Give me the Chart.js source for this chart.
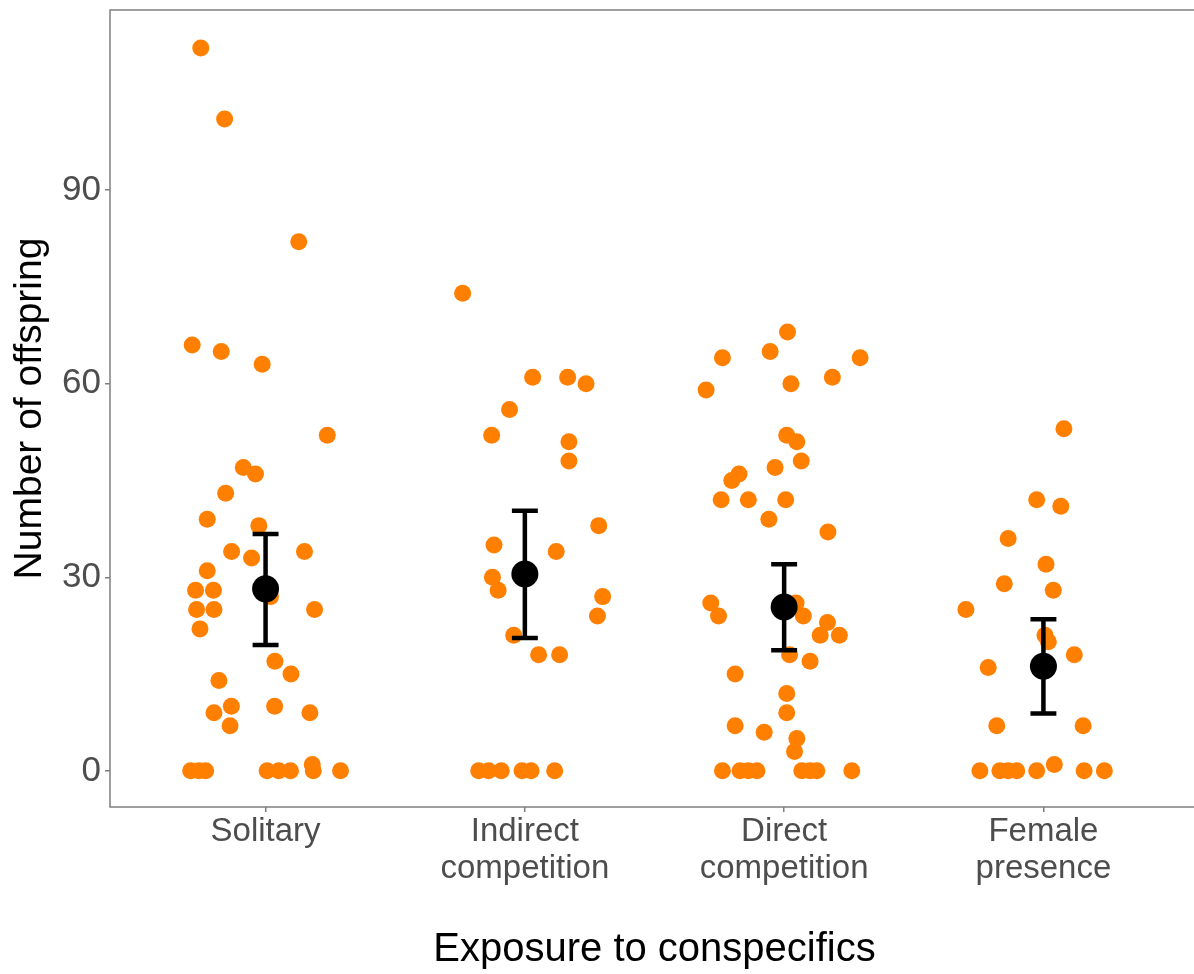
<!DOCTYPE html>
<html>
<head>
<meta charset="utf-8">
<script src="https://cdn.jsdelivr.net/npm/chart.js@4.4.1/dist/chart.umd.min.js"></script>
<style>
  html, body { margin: 0; padding: 0; background: #fff; overflow: hidden; }
  #wrap { width: 1200px; height: 974px; }
</style>
</head>
<body>
<div id="wrap"><canvas id="chart" width="1200" height="974"></canvas></div>
<script>
const CATEGORIES = [
    ["Solitary"],
    ["Indirect", "competition"],
    ["Direct", "competition"],
    ["Female", "presence"]
];
const Y_TICKS = [0, 30, 60, 90];

// offspring counts per treatment, with the horizontal jitter
const solitaryY = [112, 101, 82, 66, 65, 63, 52, 47, 46, 43, 39, 38, 34, 33, 34, 31, 28, 28, 25, 25,
    27, 25, 22, 17, 15, 14, 9, 10, 7, 10, 9, 0, 0, 0, 0, 0, 0, 1, 0, 0];
const solitaryJitter = [-0.25, -0.158, 0.128, -0.283, -0.171, -0.013, 0.238, -0.086, -0.039, -0.154,
    -0.225, -0.026, -0.131, -0.054, 0.150, -0.225, -0.270, -0.201, -0.266, -0.199,
    0.019, 0.189, -0.253, 0.036, 0.098, -0.180, -0.199, -0.132, -0.137, 0.035,
    0.171, -0.289, -0.257, -0.231, 0.006, 0.051, 0.096, 0.180, 0.184, 0.289];

const indirectY = [74, 61, 61, 60, 56, 52, 51, 48, 38, 35, 34, 30, 28, 27, 24, 21, 18, 18,
    0, 0, 0, 0, 0, 0];
const indirectJitter = [-0.24, 0.030, 0.165, 0.236, -0.059, -0.128, 0.170, 0.170, 0.285, -0.119,
    0.121, -0.125, -0.103, 0.300, 0.280, -0.043, 0.053, 0.134,
    -0.178, -0.140, -0.091, -0.011, 0.024, 0.115];

const directY = [68, 65, 64, 64, 59, 60, 61, 52, 51, 48, 47, 46, 45, 42, 42, 42, 39, 37,
    26, 24, 26, 24, 23, 21, 21, 18, 17, 15, 12, 9, 7, 6, 5, 3,
    0, 0, 0, 0, 0, 0, 0, 0];
const directJitter = [0.013, -0.054, -0.238, 0.293, -0.301, 0.026, 0.186, 0.010, 0.049, 0.066,
    -0.035, -0.174, -0.202, -0.243, -0.138, 0.006, -0.059, 0.169,
    -0.283, -0.253, 0.046, 0.074, 0.167, 0.139, 0.213, 0.021, 0.100, -0.189,
    0.010, 0.010, -0.189, -0.077, 0.049, 0.040,
    -0.238, -0.170, -0.138, -0.105, 0.068, 0.100, 0.126, 0.261];

const femaleY = [53, 42, 41, 36, 32, 29, 28, 25, 21, 20, 18, 16, 7, 7, 1, 0, 0, 0, 0, 0, 0, 0];
const femaleJitter = [0.079, -0.026, 0.067, -0.136, 0.010, -0.151, 0.038, -0.299, 0.006, 0.019,
    0.119, -0.213, -0.180, 0.153, 0.042,
    -0.245, -0.168, -0.136, -0.103, -0.026, 0.157, 0.235];

// group means and error bar limits
const meanY = [28.2, 30.5, 25.4, 16.2];
const lowerY = [19.5, 20.6, 18.7, 8.9];
const upperY = [36.7, 40.3, 32.0, 23.5];

const ORANGE = "#FF7F00";
const AXIS_GREY = "#7F7F7F";
const FONT = "'Liberation Sans', Arial, sans-serif";

function toPoints(ys, jitter, group) {
    return ys.map((y, i) => ({ x: group + 1 + jitter[i], y: y }));
}

const rawPoints = [].concat(
    toPoints(solitaryY, solitaryJitter, 0),
    toPoints(indirectY, indirectJitter, 1),
    toPoints(directY, directJitter, 2),
    toPoints(femaleY, femaleJitter, 3)
);

// error bars drawn through the chart scales
const errorBarPlugin = {
    id: "errorBars",
    afterDatasetsDraw(chart) {
        const { ctx, scales: { x, y } } = chart;
        const capHalf = 0.05;
        ctx.save();
        ctx.strokeStyle = "#000";
        ctx.lineWidth = 4.5;
        ctx.lineCap = "butt";
        meanY.forEach((m, i) => {
            const cx = x.getPixelForValue(i + 1);
            const top = y.getPixelForValue(upperY[i]);
            const bot = y.getPixelForValue(lowerY[i]);
            const l = x.getPixelForValue(i + 1 - capHalf);
            const r = x.getPixelForValue(i + 1 + capHalf);
            ctx.beginPath();
            ctx.moveTo(cx, top);
            ctx.lineTo(cx, bot);
            ctx.moveTo(l, top);
            ctx.lineTo(r, top);
            ctx.moveTo(l, bot);
            ctx.lineTo(r, bot);
            ctx.stroke();
        });
        ctx.restore();
    }
};

const panelBorder = {
    id: "panelBorder",
    afterDraw(chart) {
        const { ctx, chartArea: a } = chart;
        ctx.save();
        ctx.strokeStyle = AXIS_GREY;
        ctx.lineWidth = 1.5;
        ctx.strokeRect(a.left, a.top, a.right - a.left, a.bottom - a.top);
        ctx.restore();
    }
};

new Chart(document.getElementById("chart").getContext("2d"), {
    type: "scatter",
    data: {
        datasets: [
            {
                label: "Offspring",
                data: rawPoints,
                pointBackgroundColor: ORANGE,
                pointBorderWidth: 0,
                pointRadius: 8.5,
                pointHoverRadius: 8.5,
                order: 2
            },
            {
                label: "Mean",
                data: meanY.map((m, i) => ({ x: i + 1, y: m })),
                pointBackgroundColor: "#000",
                pointBorderWidth: 0,
                pointRadius: 13.5,
                pointHoverRadius: 13.5,
                order: 1
            }
        ]
    },
    options: {
        responsive: false,
        animation: false,
        devicePixelRatio: 1,
        layout: { autoPadding: false, padding: { top: 10, right: 1, left: 0, bottom: 0 } },
        plugins: {
            legend: { display: false },
            tooltip: { enabled: false }
        },
        scales: {
            x: {
                type: "linear",
                min: 0.4,
                max: 4.6,
                afterBuildTicks: (scale) => {
                    scale.ticks = [1, 2, 3, 4].map(v => ({ value: v }));
                },
                afterFit: (scale) => { scale.height = 167; },
                ticks: {
                    callback: (value) => CATEGORIES[value - 1],
                    color: "#4D4D4D",
                    font: { family: FONT, size: 33, lineHeight: 1.1 },
                    padding: 2,
                    maxRotation: 0,
                    autoSkip: false
                },
                grid: {
                    display: true,
                    drawOnChartArea: false,
                    drawTicks: true,
                    tickLength: 5,
                    color: AXIS_GREY,
                    lineWidth: 1.5
                },
                border: { display: false },
                title: {
                    display: true,
                    text: "Exposure to conspecifics",
                    color: "#000",
                    font: { family: FONT, size: 40 },
                    padding: { top: 0, bottom: 0 }
                }
            },
            y: {
                min: -5.6,
                max: 117.9,
                afterBuildTicks: (scale) => {
                    scale.ticks = Y_TICKS.map(v => ({ value: v }));
                },
                afterFit: (scale) => {
                    scale.width = 110;
                    scale.paddingTop = 0;
                    scale.paddingBottom = 0;
                },
                ticks: {
                    color: "#4D4D4D",
                    font: { family: FONT, size: 35 },
                    padding: 4
                },
                grid: {
                    display: true,
                    drawOnChartArea: false,
                    drawTicks: true,
                    tickLength: 5,
                    color: AXIS_GREY,
                    lineWidth: 1.5
                },
                border: { display: false },
                title: {
                    display: true,
                    text: "Number of offspring",
                    color: "#000",
                    font: { family: FONT, size: 39 },
                    padding: { top: 7, bottom: 0 }
                }
            }
        }
    },
    plugins: [errorBarPlugin, panelBorder]
});
</script>
</body>
</html>
